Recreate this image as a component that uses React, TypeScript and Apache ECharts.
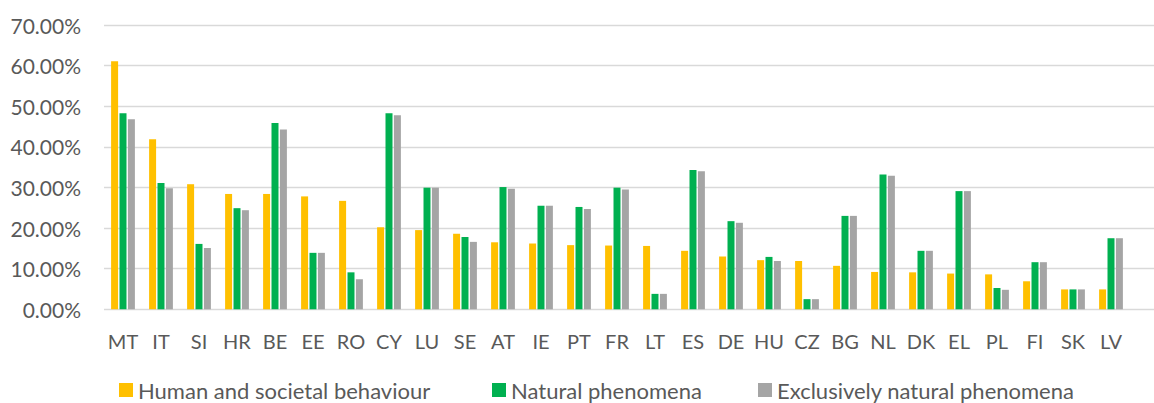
import React, { useEffect, useRef } from "react";
import * as echarts from "echarts";

const countries = ["MT", "IT", "SI", "HR", "BE", "EE", "RO", "CY", "LU", "SE", "AT", "IE", "PT", "FR", "LT", "ES", "DE", "HU", "CZ", "BG", "NL", "DK", "EL", "PL", "FI", "SK", "LV"];
const humanSocietal = [61.1, 41.85, 30.8, 28.4, 28.4, 27.8, 26.7, 20.2, 19.5, 18.6, 16.5, 16.2, 15.8, 15.7, 15.6, 14.4, 13.0, 12.1, 11.9, 10.7, 9.2, 9.1, 8.8, 8.6, 6.9, 4.9, 4.9];
const natural = [48.25, 31.1, 16.1, 24.9, 45.9, 13.9, 9.1, 48.25, 29.95, 17.8, 30.1, 25.5, 25.2, 29.95, 3.8, 34.3, 21.7, 12.9, 2.5, 23.0, 33.2, 14.4, 29.1, 5.25, 11.6, 4.9, 17.5];
const exclusivelyNatural = [46.8, 29.8, 15.1, 24.4, 44.3, 13.9, 7.4, 47.8, 29.95, 16.6, 29.7, 25.5, 24.7, 29.5, 3.8, 34.0, 21.3, 11.9, 2.5, 23.0, 32.9, 14.4, 29.1, 4.8, 11.6, 4.9, 17.5];
const seriesNames = ["Human and societal behaviour", "Natural phenomena", "Exclusively natural phenomena"];
const seriesColors = ["#FFC000", "#00B050", "#A5A5A5"];

const FONT = "Lato";
const TEXT_COLOR = "#595959";

export default function App() {
  const ref = useRef<HTMLDivElement>(null);
  useEffect(() => {
    document.body.style.margin = "0";
    if (!ref.current) return;
    const chart = echarts.init(ref.current, undefined, { renderer: "svg" });
    const dataSets = [humanSocietal, natural, exclusivelyNatural];
    const legendLefts = [114, 487, 753];
    chart.setOption({
      animation: false,
      textStyle: { fontFamily: FONT },
      grid: [
        { left: 104, right: 0, top: 25, height: 284.3, containLabel: false },
        { left: 104, width: 1026, top: 25, height: 284.3, containLabel: false },
      ],
      xAxis: [
        {
          gridIndex: 0,
          type: "value",
          show: false,
          min: 0,
          max: 1,
        },
        {
          gridIndex: 1,
          type: "category",
          data: countries,
          axisLine: { show: false },
          axisTick: { show: false },
          axisLabel: {
            color: TEXT_COLOR,
            fontSize: 20,
            fontFamily: FONT,
            margin: 22,
            interval: 0,
          },
        },
      ],
      yAxis: [
        {
          gridIndex: 0,
          type: "value",
          min: 0,
          max: 70,
          interval: 10,
          axisLine: { show: false },
          axisTick: { show: false },
          splitLine: { show: true, lineStyle: { color: "#D9D9D9", width: 1.3 } },
          axisLabel: {
            color: TEXT_COLOR,
            fontSize: 21,
            fontFamily: FONT,
            margin: 23,
            formatter: (v: number) => v.toFixed(2) + "%",
          },
        },
        {
          gridIndex: 1,
          type: "value",
          min: 0,
          max: 70,
          interval: 10,
          show: false,
          splitLine: { show: false },
        },
      ],
      legend: seriesNames.map((name, i) => ({
        data: [name],
        left: legendLefts[i],
        top: 374,
        itemWidth: 14,
        itemHeight: 14,
        itemGap: 0,
        icon: "rect",
        textStyle: { color: TEXT_COLOR, fontSize: 22, lineHeight: 22, fontFamily: FONT },
      })),
      series: seriesNames.map((name, i) => ({
        name,
        type: "bar",
        xAxisIndex: 1,
        yAxisIndex: 1,
        data: dataSets[i],
        barWidth: 7,
        barGap: "20%",
        itemStyle: { color: seriesColors[i] },
      })),
    });
    return () => chart.dispose();
  }, []);
  return <div ref={ref} style={{ width: 1154, height: 403 }} />;
}
